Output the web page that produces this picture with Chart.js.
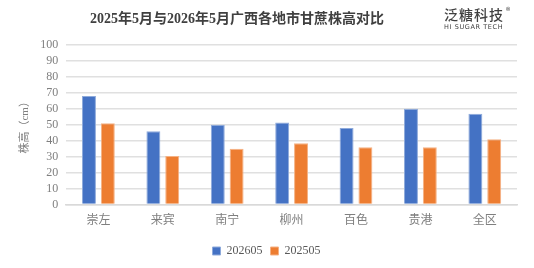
<!DOCTYPE html>
<html>
<head>
<meta charset="utf-8">
<script src="https://cdn.jsdelivr.net/npm/chart.js@4"></script>
<style>
  html, body { margin: 0; padding: 0; background: #fff; }
  #wrap { position: relative; width: 534px; height: 268px; }
  #title { position: absolute; left: 0; width: 474px; top: 7px; text-align: center; color: #404040;
           font-family: "Liberation Serif", "Noto Sans CJK SC", serif; font-size: 14px; font-weight: bold; }
  #logo { position: absolute; left: 444px; top: 6px; color: #404040; font-family: "Noto Sans CJK SC", sans-serif; }
  #logo .cn { font-size: 14px; letter-spacing: 1px; line-height: 16px; font-weight: 500; }
  #logo .reg { position: absolute; left: 62px; top: -2px; font-size: 9px; }
  #logo .en { font-family: "DejaVu Sans", sans-serif; font-size: 6.5px; letter-spacing: 0.6px; margin-top: 1px; }
</style>
</head>
<body>
<div id="wrap">
  <canvas id="chart" width="534" height="268"></canvas>
  <div id="title">2025年5月与2026年5月广西各地市甘蔗株高对比</div>
  <div id="logo"><div class="cn">泛糖科技</div><span class="reg">®</span><div class="en">HI SUGAR TECH</div></div>
</div>
<script>
// data
const regions = ['崇左', '来宾', '南宁', '柳州', '百色', '贵港', '全区'];
const height2026 = [68, 46, 50, 51.5, 48, 60, 57];
const height2025 = [51, 30.5, 35, 38.5, 36, 36, 41];
const yTicks = [0, 10, 20, 30, 40, 50, 60, 70, 80, 90, 100];

const serif = '"Liberation Serif", "Noto Sans CJK SC", serif';

new Chart(document.getElementById('chart'), {
    type: 'bar',
    data: {
        labels: regions,
        datasets: [{
            label: '202605',
            data: height2026,
            backgroundColor: '#4472C4',
            borderColor: '#8eaadb',
            borderWidth: 1,
            categoryPercentage: 0.585,
            barPercentage: 0.74
        }, {
            label: '202505',
            data: height2025,
            backgroundColor: '#ED7D31',
            borderColor: '#f5b183',
            borderWidth: 1,
            categoryPercentage: 0.585,
            barPercentage: 0.74
        }]
    },
    options: {
        responsive: false,
        animation: false,
        layout: { padding: { left: 16, right: 17, top: 45, bottom: 1 } },
        scales: {
            x: {
                grid: { display: false, drawTicks: false },
                border: { color: '#d9d9d9', width: 1.5 },
                ticks: { color: '#7f7f7f', font: { family: serif, size: 12 }, padding: 9 }
            },
            y: {
                min: 0,
                max: 100,
                afterBuildTicks: axis => { axis.ticks = yTicks.map(v => ({ value: v })); },
                grid: { color: '#e0e0e0', lineWidth: 1.5, drawTicks: false },
                border: { display: false },
                ticks: { color: '#7f7f7f', font: { family: serif, size: 12 }, padding: 8, autoSkip: false },
                title: {
                    display: true,
                    text: '株高（cm）',
                    color: '#7f7f7f',
                    font: { family: serif, size: 11 },
                    padding: { top: 3, bottom: 0 }
                }
            }
        },
        plugins: {
            legend: {
                position: 'bottom',
                labels: {
                    boxWidth: 8,
                    boxHeight: 8,
                    color: '#595959',
                    font: { family: serif, size: 12 },
                    padding: 8
                }
            },
            tooltip: { enabled: false }
        }
    }
});
</script>
</body>
</html>
